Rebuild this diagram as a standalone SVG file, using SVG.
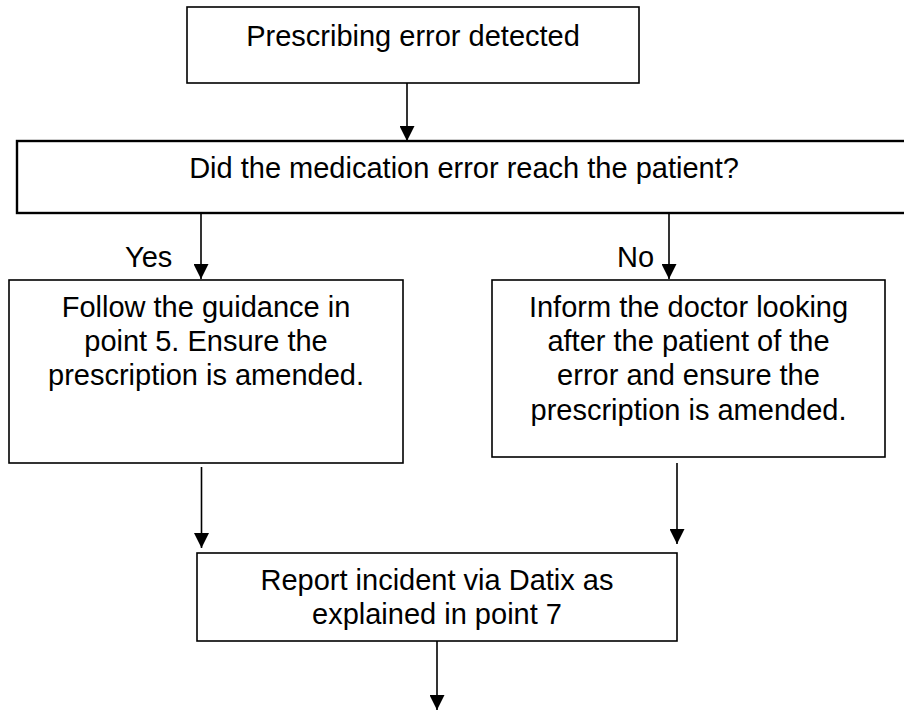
<svg xmlns="http://www.w3.org/2000/svg" width="904" height="710" viewBox="0 0 904 710">
<defs>
<style>
.box{fill:#fff;stroke:#000;stroke-width:1.6}
.thick{stroke-width:2.4}
.t{font-family:"Liberation Sans",Arial,sans-serif;font-size:29px;fill:#000;text-anchor:middle}
.l{font-family:"Liberation Sans",Arial,sans-serif;font-size:29px;fill:#000}
.c{stroke:#000;stroke-width:1.6;fill:none}
</style>
<marker id="ah" markerWidth="15" markerHeight="15" refX="15" refY="7.5" orient="auto" markerUnits="userSpaceOnUse">
<path d="M0,0 L15,7.5 L0,15 Z" fill="#000"/>
</marker>
</defs>
<rect width="904" height="710" fill="#fff"/>
<g id="connectors">
<line class="c" x1="407" y1="83" x2="407" y2="141" marker-end="url(#ah)"/>
<line class="c" x1="201" y1="213" x2="201" y2="279" marker-end="url(#ah)"/>
<line class="c" x1="669" y1="213" x2="669" y2="279" marker-end="url(#ah)"/>
<line class="c" x1="201.5" y1="467" x2="201.5" y2="548" marker-end="url(#ah)"/>
<line class="c" x1="677" y1="463" x2="677" y2="544" marker-end="url(#ah)"/>
<line class="c" x1="437" y1="641" x2="437" y2="710" marker-end="url(#ah)"/>
<text class="l" x="125" y="267">Yes</text>
<text class="l" x="617" y="267">No</text>
</g>
<g id="detected">
<rect class="box" x="187" y="7" width="452" height="76"/>
<text class="t" x="413" y="46">Prescribing error detected</text>
</g>
<g id="question">
<rect class="box thick" x="17" y="141" width="894" height="72"/>
<text class="t" x="464" y="178">Did the medication error reach the patient?</text>
</g>
<g id="yes-action">
<rect class="box" x="9" y="280" width="394" height="183"/>
<text class="t" x="206" y="317">Follow the guidance in</text>
<text class="t" x="206" y="351">point 5. Ensure the</text>
<text class="t" x="206" y="385">prescription is amended.</text>
</g>
<g id="no-action">
<rect class="box" x="492" y="280" width="393" height="177"/>
<text class="t" x="688.5" y="317">Inform the doctor looking</text>
<text class="t" x="688.5" y="351">after the patient of the</text>
<text class="t" x="688.5" y="385">error and ensure the</text>
<text class="t" x="688.5" y="420">prescription is amended.</text>
</g>
<g id="report">
<rect class="box" x="197" y="553" width="480" height="88"/>
<text class="t" x="437" y="590">Report incident via Datix as</text>
<text class="t" x="437" y="624">explained in point 7</text>
</g>
</svg>
